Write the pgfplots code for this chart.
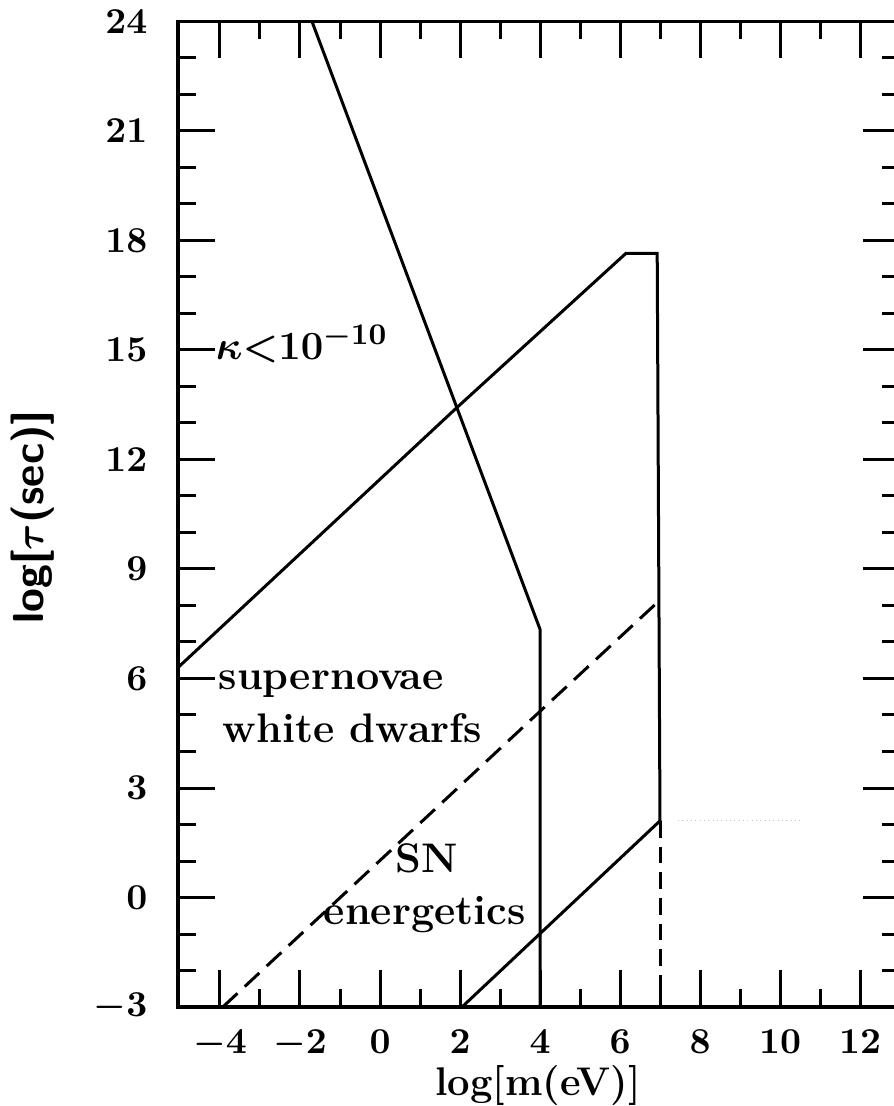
\documentclass[border=0pt]{standalone}
\usepackage{pgfplots}
\pgfplotsset{compat=1.18}
\tikzset{txt/.style={font=\fontsize{12.4}{14}\selectfont\bfseries, inner sep=0pt}}
\begin{document}
\begin{tikzpicture}
% page = reference frame (1 px = 0.3pt), right spine falls just outside
\useasboundingbox (-53.4pt,-29.7pt) rectangle (214.5pt,302.1pt);
\begin{axis}[
    at={(0,0)}, anchor=south west,
    x=12pt, y=10.95pt,
    xmin=-5.05, xmax=13, ymin=-3, ymax=24,
    xtick={-4,-2,...,12}, minor x tick num=1,
    ytick={-3,0,...,24}, minor y tick num=2,
    major tick length=11.1pt, minor tick length=5.4pt,
    tick align=inside,
    every tick/.style={black, line width=0.9pt},
    axis line style={line width=1.1pt},
    tick label style={font=\fontsize{10.5}{12}\selectfont\boldmath, inner sep=0pt},
    xticklabel style={yshift=-6.8pt},
    yticklabel style={xshift=-9pt},
    xlabel={log[m(eV)]},
    ylabel={log[$\tau$(sec)]},
    every axis x label/.style={at={(axis description cs:0.4986,0)}, anchor=base,
        yshift=-26.6pt, inner sep=0pt, font=\fontsize{12}{14}\selectfont\bfseries},
    every axis y label/.style={at={(axis description cs:-0.2008,0.4972)}, rotate=90,
        anchor=center, inner sep=0pt, font=\fontsize{13}{15}\selectfont\sffamily\bfseries\boldmath},
    cycle list={{black, line width=0.9pt}},
    no marks,
]
% steep bound
\addplot[black, line width=0.9pt] coordinates {(-1.7,24) (4,7.35) (4,-3)};
% upper region
\addplot[black, line width=0.9pt] coordinates {(-5.05,6.3) (1.9,13.4) (6.15,17.65) (6.93,17.65) (7,2.1)};
\addplot[black, line width=0.9pt] coordinates {(2.05,-3) (7,2.1)};
\addplot[black, line width=0.9pt, dash pattern=on 5pt off 2.7pt] coordinates {(7,2.1) (7,-3)};
% SN energetics
\addplot[black, line width=0.9pt, dash pattern=on 6pt off 3pt] coordinates {(-3.93,-3) (4,5.1) (6.95,8.1)};
% faint scan line
\addplot[gray!45, line width=0.3pt, densely dotted] coordinates {(7.45,2.1) (10.5,2.1)};

\node[txt, anchor=base west, font=\fontsize{13}{15}\selectfont\boldmath] at (axis cs:-4.12,14.75) {$\kappa{<}10^{-10}$};
\node[txt, anchor=base west] at (axis cs:-4.05,5.7) {supernovae};
\node[txt, anchor=base west] at (axis cs:-3.95,4.25) {white dwarfs};
\node[txt, anchor=base west] at (axis cs:0.38,0.68) {SN};
\node[txt, anchor=base west] at (axis cs:-1.42,-0.74) {energetics};
\end{axis}
\end{tikzpicture}
\end{document}
